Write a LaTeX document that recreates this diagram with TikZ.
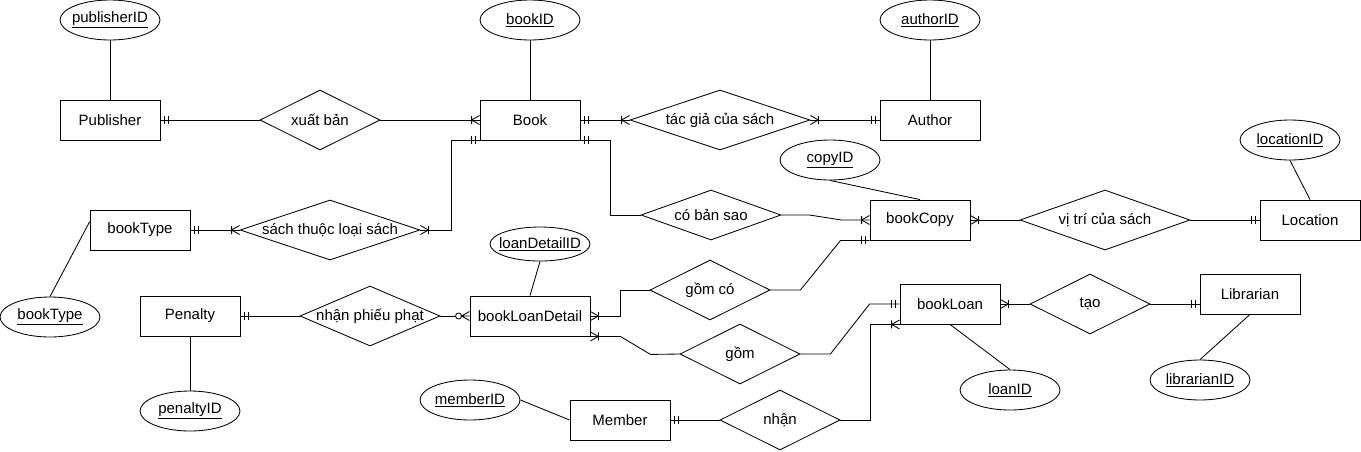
\documentclass[tikz,border=0pt]{standalone}
\usepackage{fontspec}
\setmainfont{Liberation Sans}
\usetikzlibrary{shapes.geometric,arrows.meta,calc}

% crow's-foot markers (tip at the entity / diamond edge)
\pgfdeclarearrow{
  name=mandOne,
  setup code={\pgfarrowssettipend{0pt}\pgfarrowssetlineend{0pt}\pgfarrowssetbackend{-9pt}},
  drawing code={\pgfsetdash{}{0pt}
    \pgfpathmoveto{\pgfqpoint{-4pt}{-4pt}}\pgfpathlineto{\pgfqpoint{-4pt}{4pt}}
    \pgfpathmoveto{\pgfqpoint{-8pt}{-4pt}}\pgfpathlineto{\pgfqpoint{-8pt}{4pt}}
    \pgfusepathqstroke}
}
\pgfdeclarearrow{
  name=oneMany,
  setup code={\pgfarrowssettipend{0pt}\pgfarrowssetlineend{0pt}\pgfarrowssetbackend{-9pt}},
  drawing code={\pgfsetdash{}{0pt}
    \pgfpathmoveto{\pgfqpoint{0pt}{4.5pt}}\pgfpathlineto{\pgfqpoint{-8pt}{0pt}}\pgfpathlineto{\pgfqpoint{0pt}{-4.5pt}}
    \pgfpathmoveto{\pgfqpoint{-8pt}{-4pt}}\pgfpathlineto{\pgfqpoint{-8pt}{4pt}}
    \pgfusepathqstroke}
}
\pgfdeclarearrow{
  name=zeroMany,
  setup code={\pgfarrowssettipend{0pt}\pgfarrowssetlineend{-14pt}\pgfarrowssetbackend{-14pt}},
  drawing code={\pgfsetdash{}{0pt}
    \pgfpathmoveto{\pgfqpoint{0pt}{4.5pt}}\pgfpathlineto{\pgfqpoint{-8pt}{0pt}}\pgfpathlineto{\pgfqpoint{0pt}{-4.5pt}}
    \pgfpathmoveto{\pgfqpoint{-8pt}{0pt}}\pgfpathlineto{\pgfqpoint{0pt}{0pt}}
    \pgfpathcircle{\pgfqpoint{-11pt}{0pt}}{3pt}
    \pgfusepathqstroke}
}

\newcommand{\zb}[1]{\makebox[0pt]{#1}}
\newcommand{\ul}[1]{\makebox[0pt]{\underline{#1}}}

\begin{document}
\begin{tikzpicture}[x=1pt,y=-1pt,
  line width=0.85pt,
  font=\fontsize{15}{17}\selectfont,
  entity/.style={rectangle,draw,fill=white,minimum width=100pt,minimum height=40pt,inner sep=0pt},
  attr/.style={ellipse,draw,fill=white,minimum width=100pt,minimum height=40pt,inner sep=0pt},
  rel/.style={diamond,draw,fill=white,inner sep=0pt}]
\useasboundingbox[fill=white] (0,0) rectangle (1361,451);

% entities
\node[entity] (pub) at (110,120) {Publisher};
\node[entity] (book) at (530,120) {Book};
\node[entity] (author) at (930,120) {Author};
\node[entity] (bt) at (140,230) {bookType};
\node[entity] (copy) at (920,220) {bookCopy};
\node[entity] (loc) at (1310,220) {Location};
\node[entity] (pen) at (190,316) {Penalty};
\node[entity,minimum width=120pt] (bld) at (530,316) {bookLoanDetail};
\node[entity] (bl) at (950,304) {bookLoan};
\node[entity] (lib) at (1250,294) {Librarian};
\node[entity] (mem) at (620,420) {Member};

% attributes
\node[attr] (pubID) at (110,20) {\ul{publisherID}};
\node[attr] (bookID) at (530,20) {\ul{bookID}};
\node[attr] (authID) at (930,20) {\ul{authorID}};
\node[attr] (copyID) at (830,160) {\ul{copyID}};
\node[attr] (locID) at (1290,140) {\ul{locationID}};
\node[attr] (btID) at (50,317) {\ul{bookType}};
\node[attr] (penID) at (190,411) {\ul{penaltyID}};
\node[attr,minimum height=34pt] (ldID) at (540,244) {\ul{loanDetailID}};
\node[attr] (memID) at (470,400) {\ul{memberID}};
\node[attr] (loanID) at (1010,390) {\ul{loanID}};
\node[attr] (libID) at (1200,380) {\ul{librarianID}};

% relationships
\node[rel,minimum width=120pt,minimum height=60pt] (xb) at (320,120) {\zb{xuất bản}};
\node[rel,minimum width=180pt,minimum height=60pt] (tg) at (720,120) {\zb{tác giả của sách}};
\node[rel,minimum width=140pt,minimum height=50pt] (cbs) at (711,215) {\zb{có bản sao}};
\node[rel,minimum width=170pt,minimum height=60pt] (vt) at (1105,220) {\zb{vị trí của sách}};
\node[rel,minimum width=180pt,minimum height=60pt] (stl) at (330,230) {\zb{sách thuộc loại sách}};
\node[rel,minimum width=140pt,minimum height=60pt] (npp) at (370,316) {\zb{nhận phiếu phạt}};
\node[rel,minimum width=120pt,minimum height=60pt] (gc) at (710,290) {\zb{gồm có}};
\node[rel,minimum width=120pt,minimum height=60pt] (gom) at (740,354) {\zb{gồm}};
\node[rel,minimum width=120pt,minimum height=60pt] (nhan) at (780,420) {\zb{nhận}};
\node[rel,minimum width=120pt,minimum height=60pt] (tao) at (1090,304) {\zb{tạo}};

% attribute links
\draw (pubID.south) -- (pub.north);
\draw (bookID.south) -- (book.north);
\draw (authID.south) -- (author.north);
\draw (copyID.south) -- (copy.north);
\draw (locID.south) -- (loc.north);
\draw (btID.north) -- ($(bt.north west)!0.3!(bt.south west)$);
\draw (penID.north) -- (pen.south);
\draw (ldID.south) -- (bld.north);
\draw (memID.east) -- (mem.west);
\draw (loanID.north) -- (bl.south);
\draw (libID.north) -- (lib.south);

% relationship links
\draw[{mandOne}-] (pub.east) -- (xb.west);
\draw[-{oneMany}] (xb.east) -- (book.west);
\draw[{mandOne}-{oneMany}] (book.east) -- (tg.west);
\draw[{oneMany}-{mandOne}] (tg.east) -- (author.west);
\draw[{mandOne}-] (book.south east) -- ++(30,0) |- (cbs.west);
\draw[-{oneMany}] (cbs.east) -- ++(28,0) -- ++(32,5) -- (copy.west);
\draw[{mandOne}-{oneMany}] (bt.east) -- (stl.west);
\draw[{oneMany}-{mandOne}] (stl.east) -- ++(31,0) |- (book.south west);
\draw[{oneMany}-] (copy.east) -- (vt.west);
\draw[-{mandOne}] (vt.east) -- (loc.west);
\draw[{mandOne}-] (pen.east) -- (npp.west);
\draw[-{zeroMany}] (npp.east) -- (bld.west);
\draw[{oneMany}-] (bld.east) -- ++(30,0) |- (gc.west);
\draw[-{mandOne}] (gc.east) -- ++(30,0) -- ($(copy.south west)+(-29,0)$) -- (copy.south west);
\draw[{oneMany}-] (bld.south east) -- ++(30,0) -- ++(30,18) -- (gom.west);
\draw[-{mandOne}] (gom.east) -- ++(30,0) -- ($(bl.west)+(-30,0)$) -- (bl.west);
\draw[{mandOne}-] (mem.east) -- (nhan.west);
\draw[-{oneMany}] (nhan.east) -- ++(30,0) |- (bl.south west);
\draw[{oneMany}-] (bl.east) -- (tao.west);
\draw[-{mandOne}] (tao.east) -- (tao.east -| lib.west);
\end{tikzpicture}
\end{document}
